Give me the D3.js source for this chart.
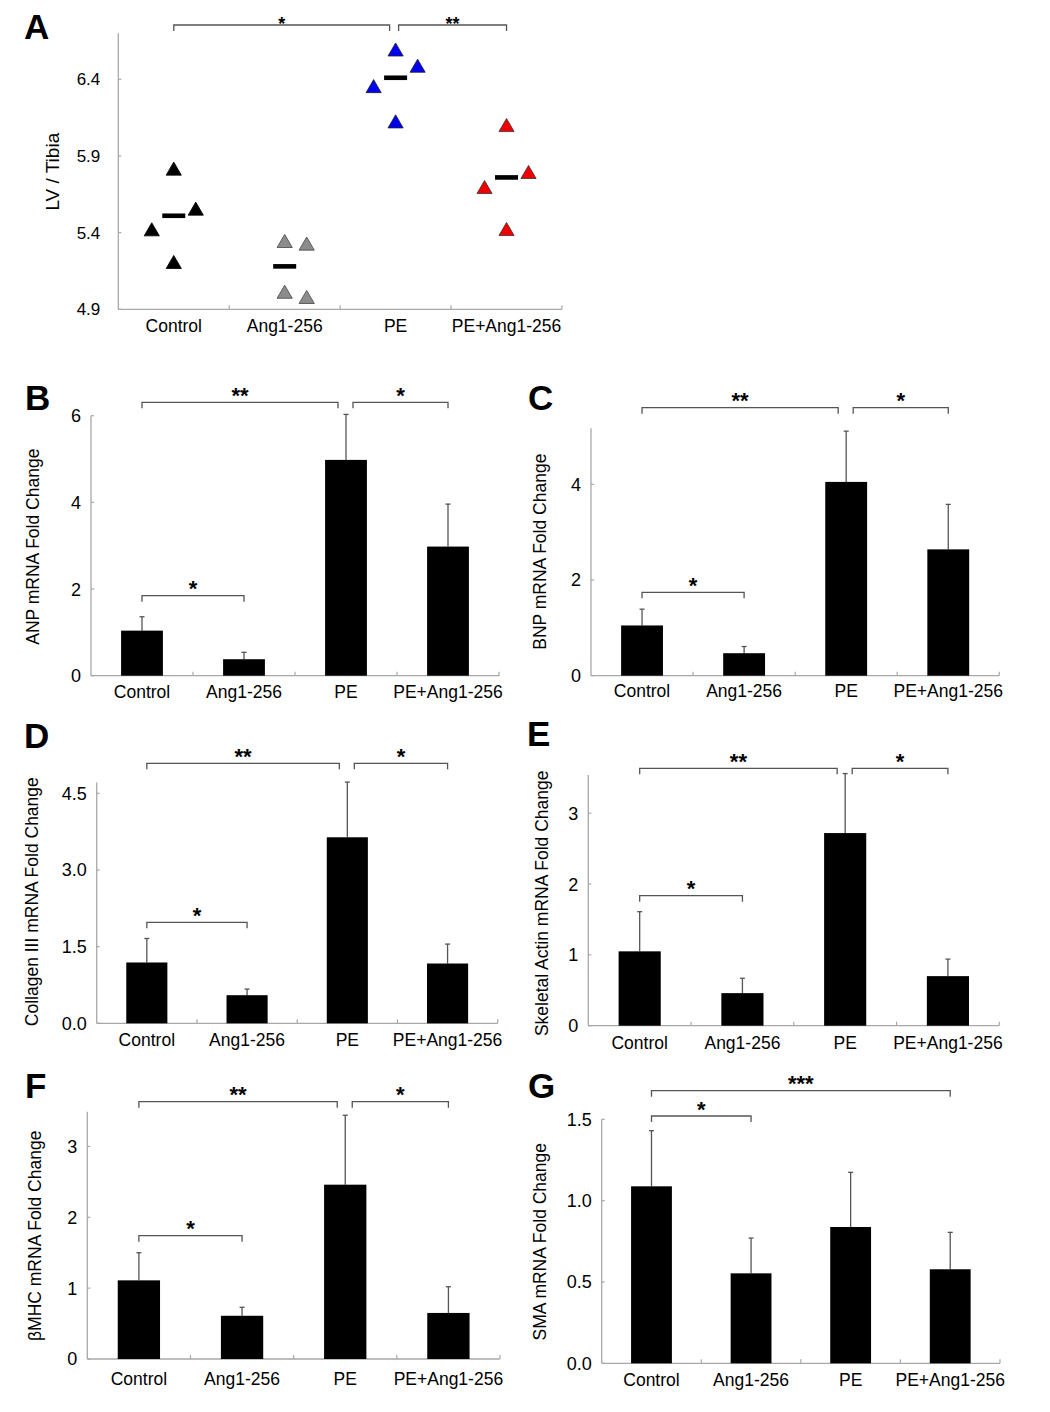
<!DOCTYPE html>
<html><head><meta charset="utf-8">
<script src="https://cdn.jsdelivr.net/npm/d3@7"></script>
<style>
html,body{margin:0;padding:0;background:#fff;}
svg{display:block;}
text{font-family:"Liberation Sans",Arial,sans-serif;fill:#000;}
</style></head>
<body>
<svg id="fig" width="1050" height="1412"></svg>
<script>
// ---------------- DATA ----------------
const categories = ["Control", "Ang1-256", "PE", "PE+Ang1-256"];

// Panel A : LV / Tibia individual animals
const lvControl = [5.42, 5.816, 5.207, 5.555];
const lvAng = [5.344, 5.013, 5.327, 4.979];
const lvPE = [6.593, 6.487, 6.354, 6.124];
const lvPEAng = [6.10, 5.794, 5.696, 5.422];
const lvMeans = [5.51, 5.18, 6.41, 5.76];
const lvTicks = [4.9, 5.4, 5.9, 6.4];

// Panels B-G : mean fold change and SE
const anpMean = [1.04, 0.38, 4.98, 2.98];
const anpErr = [0.32, 0.16, 1.05, 0.98];
const anpTicks = [0, 2, 4, 6];

const bnpMean = [1.05, 0.47, 4.05, 2.64];
const bnpErr = [0.34, 0.14, 1.06, 0.94];
const bnpTicks = [0, 2, 4];

const colMean = [1.19, 0.55, 3.64, 1.17];
const colErr = [0.47, 0.12, 1.08, 0.38];
const colTicks = [0, 1.5, 3.0, 4.5];

const actMean = [1.05, 0.46, 2.72, 0.70];
const actErr = [0.56, 0.21, 0.84, 0.24];
const actTicks = [0, 1, 2, 3];

const mhcMean = [1.11, 0.61, 2.46, 0.65];
const mhcErr = [0.39, 0.12, 0.98, 0.37];
const mhcTicks = [0, 1, 2, 3];

const smaMean = [1.088, 0.553, 0.838, 0.578];
const smaErr = [0.342, 0.217, 0.336, 0.227];
const smaTicks = [0, 0.5, 1.0, 1.5];

// significance comparisons
const sigStd = [
  {from: "Control", to: "PE", label: "**", level: "top"},
  {from: "PE", to: "PE+Ang1-256", label: "*", level: "top"},
  {from: "Control", to: "Ang1-256", label: "*", level: "low"}
];
const sigA = [
  {from: "Control", to: "PE", label: "*", level: "top"},
  {from: "PE", to: "PE+Ang1-256", label: "**", level: "top"}
];
const sigG = [
  {from: "Control", to: "PE+Ang1-256", label: "***", level: "top"},
  {from: "Control", to: "Ang1-256", label: "*", level: "low"}
];

// ---------------- LAYOUT ----------------
const AXIS_COL = "#a8a8a8";
const BR_COL = "#555";
const svg = d3.select("#fig");

function drawBracket(g, x, br, yTop, yLow, pad, starFs, starGap) {
  br.forEach(b => {
    const y = b.level === "top" ? yTop : yLow;
    let xa = x(b.from) + x.bandwidth() / 2;
    let xb = x(b.to) + x.bandwidth() / 2;
    if (b.to === "PE" && br.some(o => o.from === "PE")) xb -= pad[0];
    if (b.from === "PE" && br.some(o => o.to === "PE")) xa += pad[1];
    g.append("path")
      .attr("d", `M${xa},${y + 6}V${y}H${xb}V${y + 6}`)
      .attr("fill", "none").attr("stroke", BR_COL).attr("stroke-width", 1.3);
    g.append("text")
      .attr("x", (xa + xb) / 2).attr("y", y - starGap + starFs * 0.58)
      .attr("text-anchor", "middle").attr("font-size", starFs)
      .attr("font-weight", "bold").text(b.label);
  });
}

function drawAxes(g, x, y, lay, ticks, fmt, tickGap, tickFs) {
  const yb = y.range()[0], yt = y.range()[1];
  g.append("line").attr("x1", lay.x0).attr("x2", lay.x0)
    .attr("y1", yt).attr("y2", yb)
    .attr("stroke", AXIS_COL).attr("stroke-width", 1.3);
  g.append("line").attr("x1", lay.x0).attr("x2", lay.x1)
    .attr("y1", yb).attr("y2", yb)
    .attr("stroke", AXIS_COL).attr("stroke-width", 1.3);
  const step = x.step();
  for (let k = 1; k <= categories.length; k++) {
    const xx = lay.x0 + k * step;
    g.append("line").attr("x1", xx).attr("x2", xx)
      .attr("y1", yb).attr("y2", yb - 4)
      .attr("stroke", AXIS_COL).attr("stroke-width", 1.2);
  }
  ticks.forEach(t => {
    g.append("line").attr("x1", lay.x0).attr("x2", lay.x0 + 3)
      .attr("y1", y(t)).attr("y2", y(t))
      .attr("stroke", AXIS_COL).attr("stroke-width", 1.2);
    g.append("text").attr("x", lay.x0 - tickGap).attr("y", y(t))
      .attr("dy", "0.36em").attr("text-anchor", "end")
      .attr("font-size", tickFs).text(fmt(t));
  });
  categories.forEach(c => {
    g.append("text").attr("x", x(c) + x.bandwidth() / 2)
      .attr("y", yb + lay.labDy).attr("dy", "0.36em")
      .attr("text-anchor", "middle").attr("font-size", 17.5).text(c);
  });
  g.append("text")
    .attr("transform", `translate(${lay.ylx},${lay.yly}) rotate(-90)`)
    .attr("dy", "0.36em").attr("text-anchor", "middle")
    .attr("font-size", lay.ylfs || 17.5).text(lay.ylabel);
  g.append("text").attr("x", lay.lx).attr("y", lay.ly)
    .attr("font-size", 35).attr("font-weight", "bold").text(lay.letter);
}

// ---------------- PANEL A ----------------
(function () {
  const lay = {x0: 118.3, x1: 562, labDy: 16,
    ylx: 51.7, yly: 171.7, ylfs: 19, ylabel: "LV / Tibia", lx: 24, ly: 39, letter: "A"};
  const g = svg.append("g");
  const x = d3.scaleBand().domain(categories).range([lay.x0, lay.x1])
    .paddingInner(0).paddingOuter(0);
  const y = d3.scaleLinear().domain([4.9, 6.7]).range([309.3, 33.3]);
  drawAxes(g, x, y, lay, lvTicks, d3.format(".1f"), 18, 17);

  const groups = [lvControl, lvAng, lvPE, lvPEAng];
  const slots = [[-1, 0, 0, 1], [0, 0, 1, 1], [0, 1, -1, 0], [0, 1, -1, 0]];
  const fills = ["#000000", "#8c8c8c", "#0000f0", "#f00000"];
  const strokes = ["#000", "#444", "#222", "#333"];
  const tri = "M0,-6.8L7.6,6.3L-7.6,6.3Z";
  groups.forEach((vals, gi) => {
    const cx = x(categories[gi]) + x.bandwidth() / 2;
    vals.forEach((v, i) => {
      g.append("path").attr("d", tri)
        .attr("transform", `translate(${cx + slots[gi][i] * 22},${y(v)})`)
        .attr("fill", fills[gi]).attr("stroke", strokes[gi]).attr("stroke-width", 0.8);
    });
    g.append("rect").attr("x", cx - 11.5).attr("y", y(lvMeans[gi]) - 2.3)
      .attr("width", 23).attr("height", 4.6).attr("fill", "#000");
  });
  drawBracket(g, x, sigA, 25, 0, [6, 3], 18, 5);
})();

// ---------------- BAR PANELS ----------------
function barPanel(lay, mean, err, ticks, fmt, sig, yTopBr, yLowBr) {
  const g = svg.append("g");
  const x = d3.scaleBand().domain(categories).range([lay.x0, lay.x1])
    .paddingInner(0.59).paddingOuter(0.295);
  const y = d3.scaleLinear().domain([0, lay.max]).range([lay.yBase, lay.yTop]);
  drawAxes(g, x, y, lay, ticks, fmt, 10, 18);
  categories.forEach((c, i) => {
    const cx = x(c) + x.bandwidth() / 2;
    g.append("line").attr("x1", cx).attr("x2", cx)
      .attr("y1", y(mean[i])).attr("y2", y(mean[i] + err[i]))
      .attr("stroke", "#555").attr("stroke-width", 1.3);
    g.append("line").attr("x1", cx - 2.5).attr("x2", cx + 2.5)
      .attr("y1", y(mean[i] + err[i])).attr("y2", y(mean[i] + err[i]))
      .attr("stroke", "#555").attr("stroke-width", 1.3);
    g.append("rect").attr("x", x(c)).attr("y", y(mean[i]))
      .attr("width", x.bandwidth()).attr("height", y(0) - y(mean[i]))
      .attr("fill", "#000");
  });
  drawBracket(g, x, sig, yTopBr, yLowBr, [8, 7], 22, 12);
}

const fInt = d3.format("d"), f1 = d3.format(".1f");

barPanel({x0: 91, x1: 499, yBase: 675.7, yTop: 415.7, max: 6, labDy: 16,
  ylx: 33, yly: 546.7, ylabel: "ANP mRNA Fold Change", lx: 25, ly: 410, letter: "B"},
  anpMean, anpErr, anpTicks, fInt, sigStd, 402.3, 595.7);

barPanel({x0: 591, x1: 999.3, yBase: 675.7, yTop: 428.3, max: 5.17, labDy: 15,
  ylx: 540, yly: 551.7, ylabel: "BNP mRNA Fold Change", lx: 528, ly: 410, letter: "C"},
  bnpMean, bnpErr, bnpTicks, fInt, sigStd, 407.7, 592.3);

barPanel({x0: 96.7, x1: 497.7, yBase: 1023.3, yTop: 782.6, max: 4.71, labDy: 16.5,
  ylx: 31.7, yly: 901.7, ylabel: "Collagen III mRNA Fold Change", lx: 24, ly: 748, letter: "D"},
  colMean, colErr, colTicks, f1, sigStd, 763.3, 922.3);

barPanel({x0: 588.3, x1: 999.3, yBase: 1025.7, yTop: 775, max: 3.54, labDy: 16.5,
  ylx: 541.7, yly: 903.3, ylabel: "Skeletal Actin mRNA Fold Change", lx: 527, ly: 746, letter: "E"},
  actMean, actErr, actTicks, fInt, sigStd, 768.3, 895.7);

barPanel({x0: 87.3, x1: 500, yBase: 1359, yTop: 1111.7, max: 3.49, labDy: 20,
  ylx: 35, yly: 1235.8, ylabel: "βMHC mRNA Fold Change", lx: 25, ly: 1098, letter: "F"},
  mhcMean, mhcErr, mhcTicks, fInt, sigStd, 1101.7, 1235.7);

barPanel({x0: 601.7, x1: 1000, yBase: 1363.3, yTop: 1119.3, max: 1.5, labDy: 16,
  ylx: 540, yly: 1241.7, ylabel: "SMA mRNA Fold Change", lx: 528, ly: 1098, letter: "G"},
  smaMean, smaErr, smaTicks, f1, sigG, 1090.7, 1116);
</script>
</body></html>
